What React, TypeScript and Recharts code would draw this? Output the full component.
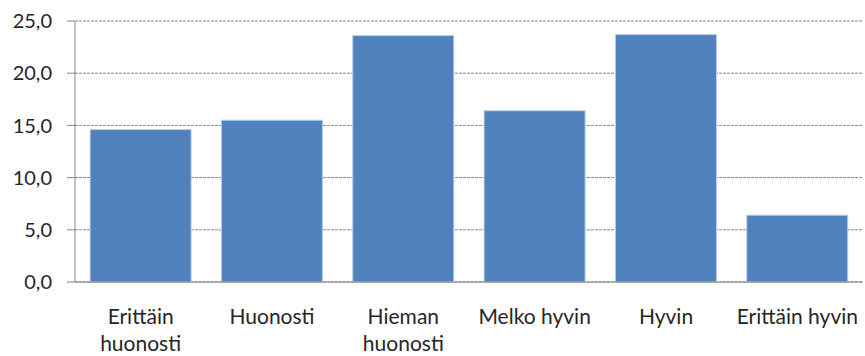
import { BarChart, Bar, XAxis, YAxis, CartesianGrid } from 'recharts'

// Answer categories; "\n" marks where a label wraps to a second line
const categories = [
  'Erittäin\nhuonosti',
  'Huonosti',
  'Hieman\nhuonosti',
  'Melko hyvin',
  'Hyvin',
  'Erittäin hyvin',
]
const shares = [14.6, 15.5, 23.6, 16.4, 23.7, 6.4]
const yTicks = [0, 5, 10, 15, 20, 25]
// category boundaries for the separator ticks under the axis
const boundaries = [0, 1, 2, 3, 4, 5, 6]

const FONT = 'Lato, "Open Sans", sans-serif'
const TEXT = '#262626'
const AXIS = '#868686'

const data = categories.map((c, i) => ({ category: c, value: shares[i] }))

const fmt = (v: number) => v.toFixed(1).replace('.', ',')

function CategoryTick({ x, y, payload }: any) {
  const lines = String(payload.value).split('\n')
  return (
    <text x={x} y={y} textAnchor="middle" fill={TEXT} fontSize={21} fontFamily={FONT}>
      {lines.map((l, i) => (
        <tspan key={i} x={x} dy={i === 0 ? 34 : 27}>{l}</tspan>
      ))}
    </text>
  )
}

export default function App() {
  return (
    <div style={{ position: 'absolute', left: 0, top: 0, background: '#fff' }}>
      <BarChart
        width={865}
        height={356}
        data={data}
        margin={{ top: 21, right: 2, bottom: 0, left: 0 }}
        barCategoryGap="11.5%"
      >
        <CartesianGrid vertical={false} stroke={AXIS} strokeDasharray="3 1" />
        <XAxis
          xAxisId="sep"
          type="number"
          domain={[0, 6]}
          ticks={boundaries}
          height={1}
          axisLine={false}
          tick={false}
          tickSize={7}
          stroke={AXIS}
        />
        <XAxis
          dataKey="category"
          interval={0}
          height={73}
          stroke={AXIS}
          tickLine={false}
          tick={<CategoryTick />}
        />
        <YAxis
          width={75}
          domain={[0, 25]}
          ticks={yTicks}
          tickFormatter={fmt}
          stroke={AXIS}
          tickSize={8}
          tickMargin={15}
          tick={{ fill: TEXT, fontSize: 20, fontFamily: FONT }}
        />
        <Bar dataKey="value" fill="#4F81BD" stroke="#B9CDE5" strokeWidth={1} isAnimationActive={false} />
      </BarChart>
    </div>
  )
}
